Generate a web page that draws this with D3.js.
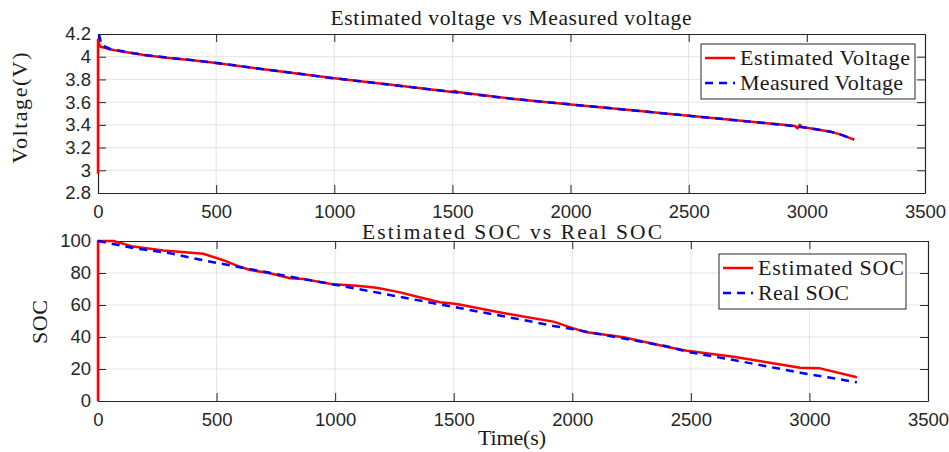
<!DOCTYPE html>
<html><head><meta charset="utf-8">
<script src="https://cdn.jsdelivr.net/npm/d3@7"></script>
<style>body{margin:0;background:#fff}svg{display:block}</style>
</head><body><svg id="c" width="949" height="452"></svg>
<script>
// ---- data ----
const xTicks = [0,500,1000,1500,2000,2500,3000,3500];
const vTicks = [2.8,3,3.2,3.4,3.6,3.8,4,4.2];
const socTicks = [0,20,40,60,80,100];

const tMeasV = [0,5,15,50,100,150,200,300,400,500,700,1000,1250,1500,1750,2000,2250,2500,2700,2900,3000,3100,3150,3200];
const measV  = [4.19,4.19,4.10,4.07,4.05,4.03,4.015,3.99,3.97,3.945,3.89,3.81,3.75,3.69,3.63,3.58,3.53,3.48,3.44,3.40,3.375,3.34,3.31,3.27];

const tEstV = [0,0,8,50,100,150,200,300,400,500,700,1000,1250,1500,1510,1520,1750,2000,2250,2500,2700,2900,2950,2960,2970,2980,3000,3100,3150,3200];
const estV  = [2.97,4.15,4.09,4.065,4.045,4.03,4.012,3.988,3.968,3.945,3.89,3.81,3.75,3.69,3.70,3.69,3.63,3.58,3.53,3.48,3.44,3.40,3.39,3.37,3.40,3.38,3.375,3.34,3.31,3.27];

const tEstS = [0,0,65,149,276,444,529,585,641,725,810,866,992,1091,1175,1274,1372,1442,1513,1653,1780,1920,2005,2061,2216,2398,2483,2680,2890,2961,3045,3200];
const estS  = [0,100,100,96.5,94,92,88,84.6,81.9,79.8,76.7,76.3,72.9,72,70.8,67.9,64.2,61.7,60.6,56.5,53.1,49.6,45.4,42.9,39.8,33.9,31.4,27.7,22.5,20.8,20.4,14.8];

const tRealS = [0,149,304,458,563,810,1007,1231,1442,1780,1920,2005,2398,2483,2680,2961,3200];
const realS  = [100,95.6,92.3,87.5,84.6,77.7,72.5,66.25,60.4,51,46.9,44.8,34.2,30.8,25.6,17.7,11.7];

// ---- drawing ----
const svg = d3.select("#c");
const axisCol = "#262626", gridCol = "#e3e3e3";
const sans = "'Liberation Sans', Arial, sans-serif";
const serif = "'Liberation Serif', 'Times New Roman', serif";

function panel(cfg){
  const {L,R,T,B,yDom,yTicks,yFmt} = cfg;
  const x = d3.scaleLinear().domain([0,3500]).range([L,R]);
  const y = d3.scaleLinear().domain(yDom).range([B,T]);
  const g = svg.append("g");
  g.append("g").selectAll("line").data(xTicks.slice(1,-1)).join("line")
    .attr("x1",d=>x(d)).attr("x2",d=>x(d)).attr("y1",T).attr("y2",B)
    .attr("stroke",gridCol).attr("stroke-width",1);
  g.append("g").selectAll("line").data(yTicks.slice(1,-1)).join("line")
    .attr("y1",d=>y(d)).attr("y2",d=>y(d)).attr("x1",L).attr("x2",R)
    .attr("stroke",gridCol).attr("stroke-width",1);
  const ax = (gen, tr) => {
    const a = g.append("g").attr("transform",tr).call(gen);
    a.select(".domain").attr("stroke",axisCol);
    a.selectAll(".tick line").attr("stroke",axisCol);
    a.selectAll("text").attr("fill",axisCol).style("font-family",sans).style("font-size","18.5px");
    return a;
  };
  ax(d3.axisBottom(x).tickValues(xTicks).tickFormat(d3.format("d")).tickSize(-8).tickPadding(12).tickSizeOuter(0), `translate(0,${B})`);
  ax(d3.axisLeft(y).tickValues(yTicks).tickFormat(yFmt).tickSize(-8).tickPadding(7).tickSizeOuter(0), `translate(${L},0)`);
  const top = ax(d3.axisTop(x).tickValues(xTicks).tickSize(-8).tickSizeOuter(0), `translate(0,${T})`);
  top.selectAll("text").remove();
  const right = ax(d3.axisRight(y).tickValues(yTicks).tickSize(-8).tickSizeOuter(0), `translate(${R},0)`);
  right.selectAll("text").remove();
  g.selectAll(".domain").attr("stroke-width",1.2);
  return {x,y,g};
}

const p1 = panel({L:98,R:925,T:34,B:193,yDom:[2.8,4.2],yTicks:vTicks,yFmt:d=>String(+d.toFixed(1))});
const p2 = panel({L:98,R:928,T:241,B:401,yDom:[0,100],yTicks:socTicks,yFmt:d=>d});

function line(p, ts, vs, color, dash){
  const data = ts.map((t,i)=>[t,vs[i]]);
  p.g.append("path").datum(data)
    .attr("d", d3.line().x(d=>p.x(d[0])).y(d=>p.y(d[1])))
    .attr("fill","none").attr("stroke",color).attr("stroke-width",2.5)
    .attr("stroke-dasharray", dash || null).attr("stroke-linejoin","round");
}
line(p1, tEstV, estV, "#ff0000");
line(p1, tMeasV, measV, "#0000ff", "8,6");
line(p2, tEstS, estS, "#ff0000");
line(p2, tRealS, realS, "#0000ff", "8,6");

// titles & labels
const txt = (x,y,s,size,len,rot) => {
  const t = svg.append("text").attr("x",x).attr("y",y).text(s)
    .attr("text-anchor","middle").style("font-family",serif).style("font-size",size+"px").attr("fill","#1a1a1a")
    .attr("textLength",len).attr("lengthAdjust","spacing");
  if (rot) t.attr("transform",`rotate(-90,${x},${y})`);
  return t;
};
txt(511,25,"Estimated voltage vs Measured voltage",21.5,361);
txt(512,239,"Estimated SOC vs Real SOC",21.5,300);
txt(27,108,"Voltage(V)",22,111,true);
txt(47,322,"SOC",22,44,true);
txt(512,445,"Time(s)",22,68);

// legends
function legend(x0,y0,w,h,items){
  const g = svg.append("g");
  g.append("rect").attr("x",x0).attr("y",y0).attr("width",w).attr("height",h)
    .attr("fill","#fff").attr("stroke",axisCol).attr("stroke-width",1);
  items.forEach((it,i)=>{
    const cy = y0 + 14 + i*25;
    g.append("line").attr("x1",x0+4).attr("x2",x0+34).attr("y1",cy).attr("y2",cy)
      .attr("stroke",it.c).attr("stroke-width",2.5).attr("stroke-dasharray",it.d||null);
    g.append("text").attr("x",x0+39).attr("y",cy+7).text(it.n)
      .style("font-family",serif).style("font-size","22px").attr("fill","#1a1a1a")
      .attr("textLength",it.w).attr("lengthAdjust","spacing");
  });
}
legend(701,44,214,55,[{n:"Estimated Voltage",c:"#ff0000",w:170},{n:"Measured Voltage",c:"#0000ff",d:"8,6",w:163}]);
legend(719,254,187,55,[{n:"Estimated SOC",c:"#ff0000",w:146},{n:"Real SOC",c:"#0000ff",d:"8,6",w:91}]);
</script></body></html>
